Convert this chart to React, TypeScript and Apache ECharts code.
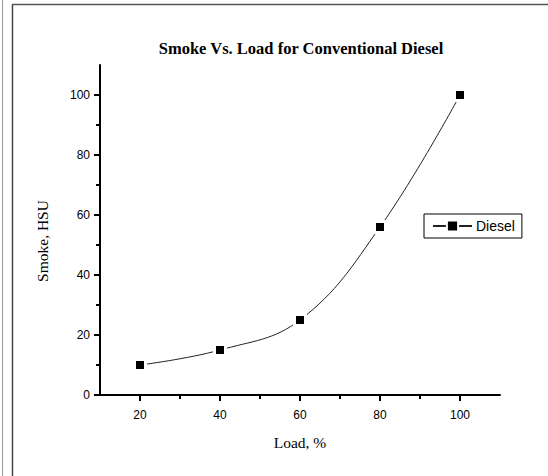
import React, { useEffect, useRef } from "react";
import * as echarts from "echarts";

const loads = [20, 40, 60, 80, 100];
const smoke = [10, 15, 25, 56, 100];
const xMajorTicks = [20, 40, 60, 80, 100];
const xMinorTicks = [30, 50, 70, 90];
const yMajorTicks = [0, 20, 40, 60, 80, 100];
const yMinorTicks = [10, 30, 50, 70, 90];
const titleText = "Smoke Vs. Load for Conventional Diesel";
const xName = "Load, %";
const yName = "Smoke, HSU";
const seriesName = "Diesel";

const serif = "'Liberation Serif', 'Times New Roman', serif";
const sans = "'Liberation Sans', Arial, sans-serif";

export default function App() {
  const ref = useRef<HTMLDivElement>(null);
  useEffect(() => {
    document.body.style.margin = "0";
    const chart = echarts.init(ref.current!, null, { renderer: "svg" });
    const baseX = {
      type: "value",
      min: 10,
      max: 110,
      splitLine: { show: false },
    };
    const baseY = {
      type: "value",
      min: 0,
      max: 110,
      splitLine: { show: false },
    };
    chart.setOption({
      animation: false,
      backgroundColor: "#ffffff",
      title: {
        text: titleText,
        left: 301,
        top: 40,
        padding: 0,
        textAlign: "center",
        textStyle: { fontFamily: serif, fontWeight: "bold", fontSize: 16.5, color: "#000" },
      },
      grid: { left: 100, right: 48, top: 65, bottom: 81, containLabel: false },
      legend: {
        data: [seriesName],
        left: 424,
        top: 214,
        orient: "vertical",
        padding: [5, 7, 5, 8],
        itemWidth: 39,
        itemHeight: 14,
        itemGap: 0,
        borderColor: "#000",
        borderWidth: 1,
        borderRadius: 0,
        textStyle: { fontFamily: sans, fontSize: 14, color: "#000", padding: [0, 0, 0, -1] },
      },
      xAxis: [
        {
          ...baseX,
          position: "bottom",
          name: xName,
          nameLocation: "middle",
          nameGap: 39,
          nameTextStyle: { fontFamily: serif, fontSize: 15.5, color: "#000" },
          axisLine: { show: true, lineStyle: { color: "#000", width: 2 } },
          axisTick: { show: true, inside: false, length: 6, lineStyle: { color: "#000", width: 2 }, customValues: xMajorTicks },
          axisLabel: { show: true, margin: 14, fontFamily: sans, fontSize: 12, color: "#000", customValues: xMajorTicks },
        },
        {
          ...baseX,
          position: "bottom",
          offset: 0,
          axisLine: { show: false },
          axisTick: { show: true, inside: false, length: 4, lineStyle: { color: "#000", width: 2 }, customValues: xMinorTicks },
          axisLabel: { show: false },
        },
      ],
      yAxis: [
        {
          ...baseY,
          position: "left",
          name: yName,
          nameLocation: "middle",
          nameGap: 50,
          nameTextStyle: { fontFamily: serif, fontSize: 15.5, color: "#000", padding: [0, 22, 0, 0] },
          axisLine: { show: true, lineStyle: { color: "#000", width: 2 } },
          axisTick: { show: true, inside: false, length: 6, lineStyle: { color: "#000", width: 2 }, customValues: yMajorTicks },
          axisLabel: { show: true, margin: 10, fontFamily: sans, fontSize: 12, color: "#000", customValues: yMajorTicks },
        },
        {
          ...baseY,
          position: "left",
          offset: 0,
          axisLine: { show: false },
          axisTick: { show: true, inside: false, length: 4, lineStyle: { color: "#000", width: 2 }, customValues: yMinorTicks },
          axisLabel: { show: false },
        },
      ],
      series: [
        {
          name: seriesName,
          type: "line",
          xAxisIndex: 0,
          yAxisIndex: 0,
          data: loads.map((x, i) => [x, smoke[i]]),
          smooth: 0.4,
          symbol: "rect",
          symbolSize: 11,
          lineStyle: { color: "#222", width: 1 },
          itemStyle: { color: "#000", borderColor: "#fff", borderWidth: 3 },
        },
      ],
      graphic: [
        { type: "line", shape: { x1: 2.5, y1: 0, x2: 2.5, y2: 476 }, style: { stroke: "#999", lineWidth: 1 } },
        { type: "line", shape: { x1: 12.5, y1: 4.5, x2: 12.5, y2: 476 }, style: { stroke: "#444", lineWidth: 1.5 } },
        { type: "line", shape: { x1: 12, y1: 4.5, x2: 548, y2: 4.5 }, style: { stroke: "#555", lineWidth: 1.5 } },
      ],
    });
    return () => chart.dispose();
  }, []);
  return <div ref={ref} style={{ width: 548, height: 476 }} />;
}
